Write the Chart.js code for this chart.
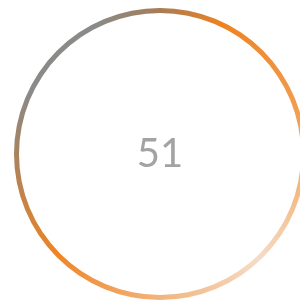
<!DOCTYPE html>
<html>
<head>
<meta charset="utf-8">
<script src="https://cdn.jsdelivr.net/npm/chart.js@4"></script>
<style>
  html, body { margin: 0; padding: 0; background: #fff; overflow: hidden; width: 300px; height: 301px; }
  #wrap { position: absolute; left: 14px; top: 8px; width: 292px; height: 292px; }
</style>
</head>
<body>
<div id="wrap"><canvas id="myChart" width="292" height="292"></canvas></div>
<script>
// single value shown in the middle of the ring
const labels = ['Score'];
const values = [51];
const ringValues = [100];

// colour stops going clockwise from 12 o'clock
const gradStops = [0, 0.07, 0.25, 0.38, 0.5, 0.63, 0.75, 0.82, 0.93, 1];
const gradColors = ['#a87c56', '#ee8220', '#f2a862', '#f5dcc6', '#f2b47c', '#ee8424', '#a88260', '#8a8a88', '#8a8a88', '#a87c56'];

function ringGradient(context) {
  const chart = context.chart;
  const area = chart.chartArea;
  if (!area) return '#ee8220';
  const cx = (area.left + area.right) / 2;
  const cy = (area.top + area.bottom) / 2;
  const g = chart.ctx.createConicGradient(-Math.PI / 2, cx, cy);
  gradStops.forEach((s, i) => g.addColorStop(s, gradColors[i]));
  return g;
}

const centerText = {
  id: 'centerText',
  afterDraw(chart) {
    const ctx = chart.ctx;
    const area = chart.chartArea;
    ctx.save();
    ctx.font = '40px Lato';
    ctx.fillStyle = '#a3a3a3';
    ctx.textAlign = 'center';
    ctx.textBaseline = 'middle';
    ctx.fillText(String(values[0]), (area.left + area.right) / 2, (area.top + area.bottom) / 2);
    ctx.restore();
  }
};

const ctx = document.getElementById('myChart').getContext('2d');
new Chart(ctx, {
  type: 'doughnut',
  data: {
    labels: labels,
    datasets: [{
      data: ringValues,
      backgroundColor: ringGradient,
      borderWidth: 0
    }]
  },
  options: {
    responsive: false,
    animation: false,
    cutout: 141,
    plugins: {
      legend: { display: false },
      tooltip: { enabled: false }
    }
  },
  plugins: [centerText]
});
</script>
</body>
</html>
